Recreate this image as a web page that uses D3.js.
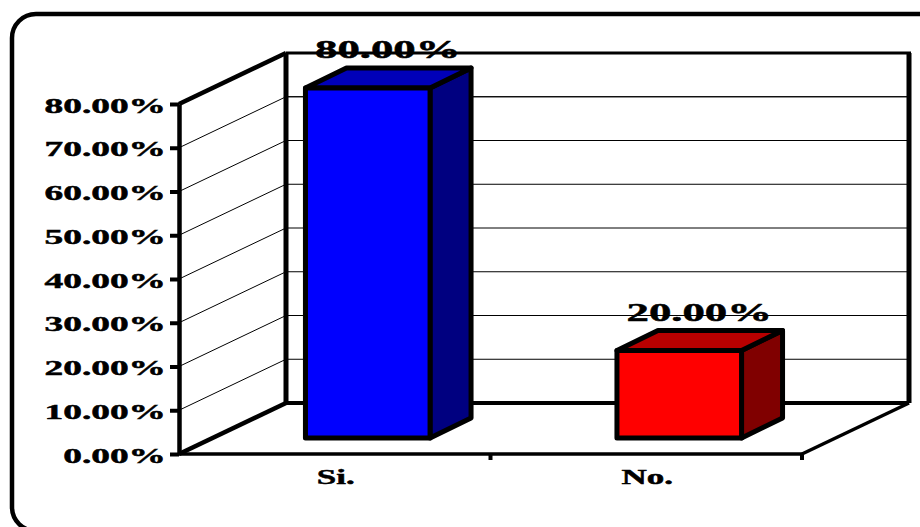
<!DOCTYPE html>
<html>
<head>
<meta charset="utf-8">
<script src="https://cdn.jsdelivr.net/npm/d3@7/dist/d3.min.js"></script>
<style>
  html, body { margin: 0; padding: 0; background: #fff; }
  svg { display: block; }
  text { font-family: "Liberation Serif", serif; font-weight: bold; fill: #000; stroke: #000; stroke-width: 0.45px; }
</style>
</head>
<body>
<svg id="chart" width="920" height="527"></svg>
<script>
// Survey answers and their shares, in percent
const categories = ["Si.", "No."];
const shares = [80, 20];
const tickValues = [0, 10, 20, 30, 40, 50, 60, 70, 80];
const frontColors = ["#0000ff", "#ff0000"];
const topColors = ["#0000b8", "#b80000"];
const sideColors = ["#000080", "#800000"];

const svg = d3.select("#chart");
const fmt = v => v.toFixed(2) + "%";

// Front plane of the oblique box
const y = d3.scaleLinear().domain([0, 80]).range([454, 104]);
const x = d3.scaleBand().domain(categories).range([179, 802]);
const wallDx = 107, wallDy = -51;      // floor depth
const barOffDx = 33, barOffDy = -16;   // bar front face relative to the front plane
const barDx = 41, barDy = -20;         // bar depth
const barW = x.step() * 0.4;
const center = c => x(c) + x.bandwidth() / 2 + barOffDx;

// Card outline
svg.append("rect")
  .attr("x", 12).attr("y", 14).attr("width", 1000).attr("height", 517)
  .attr("rx", 24).attr("ry", 24)
  .attr("fill", "#fff").attr("stroke", "#000").attr("stroke-width", 4.5);

// Gridlines on the side wall and the back wall
const grid = svg.append("g").attr("stroke", "#000").attr("stroke-width", 1).attr("fill", "none");
tickValues.slice(1, -1).forEach(v => {
  grid.append("path").attr("d", d3.line()([
    [179, y(v)],
    [179 + wallDx, y(v) + wallDy],
    [802 + wallDx, y(v) + wallDy]
  ]));
});
grid.append("path").attr("d", d3.line()([
  [179 + wallDx, y(80) + wallDy + 43.75],
  [802 + wallDx, y(80) + wallDy + 43.75]
]));

// Wall and floor frame
const frame = (pts, w) => svg.append("path")
  .attr("d", d3.line()(pts))
  .attr("fill", "none").attr("stroke", "#000").attr("stroke-width", w)
  .attr("stroke-linejoin", "miter");
const bx = 179 + wallDx, rx = 802 + wallDx;
const backBase = y(0) + wallDy, backTop = y(80) + wallDy;
frame([[bx, backTop], [rx + 2, backTop]], 3);
frame([[179, y(80)], [bx, backTop]], 4.5);
frame([[bx, backTop], [bx, backBase]], 5);
frame([[bx, backBase], [rx, backBase]], 4);
frame([[rx, backTop], [rx, backBase]], 5);
frame([[179, y(0)], [bx, backBase]], 4.5);
frame([[802, y(0)], [rx, backBase]], 3.5);

// Bars: side face, top face, front face
const bars = svg.selectAll("g.bar")
  .data(categories.map((c, i) => ({ c, v: shares[i], i })))
  .join("g").attr("class", "bar")
  .attr("stroke", "#000").attr("stroke-width", 5).attr("stroke-linejoin", "round");

const corners = d => {
  const l = center(d.c) - barW / 2, r = l + barW;
  const b = y(0) + barOffDy, t = y(d.v) + barOffDy;
  return { l, r, b, t };
};
bars.append("path").attr("fill", d => sideColors[d.i]).attr("d", d => {
  const { r, b, t } = corners(d);
  return d3.line()([[r, b], [r + barDx, b + barDy], [r + barDx, t + barDy], [r, t]]) + "Z";
});
bars.append("path").attr("fill", d => topColors[d.i]).attr("d", d => {
  const { l, r, t } = corners(d);
  return d3.line()([[l, t], [l + barDx, t + barDy], [r + barDx, t + barDy], [r, t]]) + "Z";
});
bars.append("path").attr("fill", d => frontColors[d.i]).attr("d", d => {
  const { l, r, b, t } = corners(d);
  return d3.line()([[l, b], [l, t], [r, t], [r, b]]) + "Z";
});

// Value labels above the bars
bars.append("text")
  .attr("text-anchor", "middle")
  .attr("font-size", 25)
  .attr("transform", d => `translate(${center(d.c) + barDx / 2 - 0.5},${y(d.v) + barOffDy + barDy - 10}) scale(1.79,1)`)
  .text(d => fmt(d.v));

// Value axis
const yAxis = svg.append("g").attr("transform", "translate(179,0)")
  .call(d3.axisLeft(y).tickValues(tickValues).tickFormat(fmt).tickSize(9).tickSizeOuter(0));
yAxis.select(".domain").attr("stroke", "#000").attr("stroke-width", 4.5);
yAxis.selectAll(".tick line").attr("stroke", "#000").attr("stroke-width", 4);
yAxis.selectAll(".tick text")
  .attr("x", null).attr("dy", null)
  .attr("font-size", 20)
  .attr("font-family", null)
  .attr("text-anchor", "end")
  .attr("transform", "translate(-13,8) scale(1.87,1)");

// Category axis: base line, labels, and ticks on the band edges
svg.append("path").attr("d", d3.line()([[179, y(0)], [802, y(0)]]))
  .attr("stroke", "#000").attr("stroke-width", 3.5);
const xAxis = svg.append("g").attr("transform", `translate(0,${y(0)})`)
  .call(d3.axisBottom(x).tickSize(0));
xAxis.select(".domain").remove();
xAxis.selectAll(".tick text")
  .attr("y", null).attr("dy", null)
  .attr("font-size", 20)
  .attr("font-family", null)
  .attr("transform", "translate(1,30) scale(1.75,1)");
[x("No."), 802].forEach(px => {
  svg.append("path").attr("d", d3.line()([[px, y(0)], [px, y(0) + 6]]))
    .attr("stroke", "#000").attr("stroke-width", 4);
});
</script>
</body>
</html>
